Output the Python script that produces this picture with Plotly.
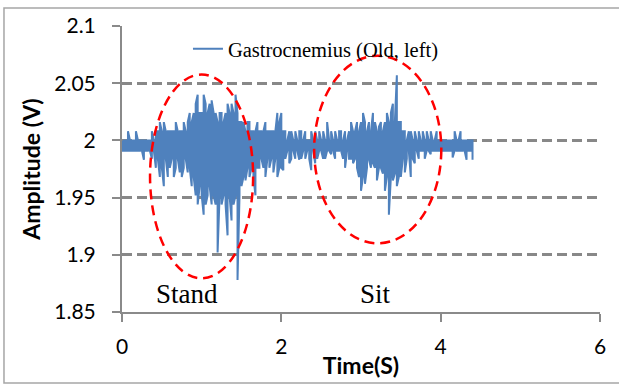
import plotly.graph_objects as go

# ---- data ----
DT = 0.025  # seconds per bin
hi = [
    2.0, 2.0, 2.0, 2.008, 2.0, 2.0, 2.0, 2.008, 2.0, 2.0,
    2.0, 2.0, 2.0, 2.0, 2.0, 2.008, 2.0, 2.008, 2.008, 2.016,
    2.008, 2.016, 2.008, 2.008, 2.008, 2.008, 2.008, 2.016, 2.008, 2.008,
    2.008, 2.016, 2.008, 2.016, 2.024, 2.016, 2.024, 2.032, 2.04, 2.024,
    2.024, 2.04, 2.032, 2.024, 2.032, 2.035, 2.024, 2.024, 2.016, 2.024,
    2.024, 2.016, 2.024, 2.032, 2.024, 2.032, 2.024, 2.04, 2.024, 2.016,
    2.016, 2.016, 2.008, 2.016, 2.016, 2.008, 2.008, 2.008, 2.016, 2.008,
    2.008, 2.008, 2.016, 2.008, 2.008, 2.008, 2.008, 2.008, 2.024, 2.016,
    2.024, 2.008, 2.008, 2.0, 2.008, 2.008, 2.0, 2.008, 2.0, 2.008,
    2.008, 2.0, 2.008, 2.0, 2.0, 2.008, 2.0, 2.008, 2.0, 2.008,
    2.0, 2.008, 2.0, 2.016, 2.0, 2.008, 2.0, 2.008, 2.0, 2.008,
    2.008, 2.0, 2.008, 2.0, 2.008, 2.016, 2.008, 2.008, 2.016, 2.008,
    2.016, 2.024, 2.016, 2.008, 2.016, 2.008, 2.024, 2.016, 2.008, 2.012,
    2.016, 2.008, 2.016, 2.024, 2.016, 2.024, 2.032, 2.016, 2.057, 2.016,
    2.016, 2.008, 2.008, 2.0, 2.008, 2.008, 2.0, 2.008, 2.0, 2.008,
    2.0, 2.008, 2.0, 2.008, 2.0, 2.008, 2.0, 2.0, 2.008, 2.0,
    2.0, 2.0, 2.0, 2.0, 2.0, 2.0, 2.0, 2.008, 2.0, 2.0,
    2.008, 2.0, 2.0, 2.0, 2.0, 2.0, 2.0,
]
lo = [
    1.991, 1.991, 1.991, 1.991, 1.991, 1.991, 1.991, 1.991, 1.991, 1.991,
    1.991, 1.983, 1.991, 1.991, 1.991, 1.984, 1.991, 1.976, 1.984, 1.968,
    1.976, 1.96, 1.984, 1.968, 1.976, 1.984, 1.968, 1.976, 1.984, 1.972,
    1.968, 1.976, 1.984, 1.972, 1.976, 1.96, 1.968, 1.952, 1.944, 1.96,
    1.952, 1.935, 1.944, 1.952, 1.96, 1.944, 1.952, 1.944, 1.902, 1.952,
    1.944, 1.952, 1.944, 1.917, 1.952, 1.93, 1.944, 1.952, 1.878, 1.952,
    1.96, 1.968, 1.965, 1.976, 1.968, 1.976, 1.968, 1.952, 1.976, 1.976,
    1.984, 1.976, 1.968, 1.984, 1.976, 1.984, 1.972, 1.984, 1.968, 1.976,
    1.976, 1.974, 1.984, 1.991, 1.98, 1.984, 1.991, 1.984, 1.991, 1.983,
    1.984, 1.991, 1.984, 1.991, 1.984, 1.974, 1.991, 1.98, 1.984, 1.991,
    1.991, 1.984, 1.984, 1.991, 1.991, 1.988, 1.991, 1.984, 1.991, 1.991,
    1.991, 1.984, 1.976, 1.991, 1.984, 1.984, 1.98, 1.984, 1.976, 1.968,
    1.956, 1.968, 1.962, 1.976, 1.983, 1.976, 1.98, 1.976, 1.965, 1.976,
    1.976, 1.971, 1.956, 1.968, 1.935, 1.968, 1.965, 1.971, 1.96, 1.968,
    1.968, 1.984, 1.972, 1.984, 1.991, 1.968, 1.984, 1.98, 1.991, 1.984,
    1.991, 1.991, 1.984, 1.991, 1.991, 1.988, 1.991, 1.991, 1.991, 1.991,
    1.991, 1.991, 1.991, 1.991, 1.991, 1.991, 1.985, 1.991, 1.991, 1.991,
    1.991, 1.991, 1.991, 1.983, 1.991, 1.991, 1.983,
]
series_name = "Gastrocnemius (Old, left)"
x_ticks = [0, 2, 4, 6]
y_ticks = [1.85, 1.9, 1.95, 2.0, 2.05, 2.1]
y_tick_labels = ["1.85", "1.9", "1.95", "2", "2.05", "2.1"]
# highlighted regions: (label, t0, t1, v0, v1, label_t, label_v)
regions = [
    ("Stand", 0.352, 1.646, 1.8795, 2.0576, 0.82, 1.866),
    ("Sit", 2.412, 4.008, 1.910, 2.074, 3.18, 1.866),
]

# ---- build the trace (vertical excursions per bin, snake-ordered) ----
xs, ys = [], []
for i, (h, l) in enumerate(zip(hi, lo)):
    t = i * DT
    pair = (h, l) if i % 2 == 0 else (l, h)
    xs += [t, t]
    ys += list(pair)

fig = go.Figure()
fig.add_trace(go.Scatter(
    x=xs, y=ys, mode="lines", name=series_name,
    line=dict(color="#4f81bd", width=2), showlegend=True,
))

shapes = []
annotations = []
for label, t0, t1, v0, v1, lt, lv in regions:
    shapes.append(dict(type="circle", xref="x", yref="y", x0=t0, x1=t1, y0=v0, y1=v1,
                       line=dict(color="#ff0000", width=2.5, dash="10px,6px"), layer="above"))
    annotations.append(dict(x=lt, y=lv, xref="x", yref="y", text=label, showarrow=False,
                            font=dict(family="Liberation Serif", size=27, color="#000")))

# outer frame of the chart
shapes.append(dict(type="rect", xref="paper", yref="paper",
                   x0=-0.2469, x1=1.08, y0=-0.2483, y1=1.063,
                   line=dict(color="#a6a6a6", width=1.5), layer="below"))

axis_font = dict(family="Lato", size=21, color="#000")
fig.update_layout(
    width=619, height=385,
    margin=dict(l=122, r=19, t=26, b=73),
    paper_bgcolor="white", plot_bgcolor="white",
    shapes=shapes, annotations=annotations,
    legend=dict(x=0.138, y=0.99, xanchor="left", yanchor="top",
                bgcolor="rgba(0,0,0,0)",
                font=dict(family="Liberation Serif", size=20.5, color="#000")),
    xaxis=dict(range=[0, 6], tickvals=x_ticks, ticktext=[str(v) for v in x_ticks],
               showgrid=False, zeroline=False, showline=True, linecolor="#8a8a8a", linewidth=2,
               ticks="outside", ticklen=8, tickwidth=2, tickcolor="#8a8a8a",
               tickfont=axis_font, ticklabelstandoff=7, automargin=False,
               title=dict(text="Time(S)", standoff=1,
                          font=dict(family="Lato", size=23, color="#000", weight="bold"))),
    yaxis=dict(range=[1.85, 2.1], tickvals=y_ticks, ticktext=y_tick_labels,
               showgrid=True, gridcolor="#888888", gridwidth=2.5, griddash="10px,5px",
               zeroline=False, showline=True, linecolor="#8a8a8a", linewidth=2,
               ticks="outside", ticklen=8, tickwidth=2, tickcolor="#8a8a8a",
               tickfont=axis_font, ticklabelstandoff=12, automargin=False,
               title=dict(text="Amplitude (V)", standoff=7,
                          font=dict(family="Lato", size=23, color="#000", weight="bold"))),
)

fig.write_html("out.html")
